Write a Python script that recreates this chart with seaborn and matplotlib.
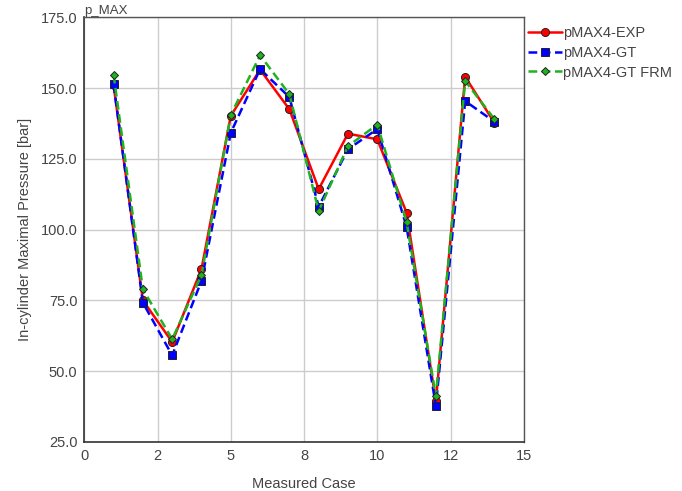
import matplotlib
matplotlib.use("Agg")
import matplotlib.pyplot as plt
import seaborn as sns
import pandas as pd

cases = list(range(1, 15))
p_exp = [151.0, 75.0, 60.3, 86.1, 140.2, 156.5, 142.5, 114.3, 133.9, 131.9, 106.0, 39.4, 154.0, 137.7]
p_gt = [151.3, 74.2, 55.6, 81.9, 134.2, 156.7, 146.8, 108.1, 128.4, 135.5, 101.0, 37.7, 145.4, 138.1]
p_gt_frm = [154.7, 78.9, 61.3, 84.0, 140.5, 161.6, 147.8, 106.6, 129.5, 137.1, 102.7, 41.2, 152.5, 139.0]

xtick_pos = [0, 2.5, 5, 7.5, 10, 12.5, 15]
xtick_labels = ["0", "2", "5", "8", "10", "12", "15"]
ytick_pos = [25, 50, 75, 100, 125, 150, 175]

sns.set_style("white")
plt.rcParams["font.family"] = ["Liberation Sans", "DejaVu Sans"]
text_color = "#444444"

fig = plt.figure(figsize=(6.82, 4.91), dpi=100)
ax = fig.add_axes([0.1236, 0.0998, 0.6444, 0.865])

series = [
    ("pMAX4-EXP", p_exp, "red", "-", "o", 5.8),
    ("pMAX4-GT", p_gt, "blue", (0, (3.5, 1.8)), "s", 5.5),
    ("pMAX4-GT FRM", p_gt_frm, "#1fb31f", (0, (3.5, 1.8)), "D", 4.0),
]
for name, vals, color, ls, marker, ms in series:
    df = pd.DataFrame({"case": cases, "p": vals})
    sns.lineplot(data=df, x="case", y="p", ax=ax, color=color, linestyle=ls,
                 linewidth=1.8, marker=marker, markersize=ms,
                 markeredgecolor="#222222", markeredgewidth=0.7,
                 label=name, sort=False)

ax.set_xlim(0, 15)
ax.set_ylim(25, 175)
ax.set_xticks(xtick_pos)
ax.set_xticklabels(xtick_labels)
ax.set_yticks(ytick_pos)
ax.set_yticklabels([f"{v:.1f}" for v in ytick_pos])
ax.grid(True, color="#cccccc", linewidth=1)
ax.tick_params(colors=text_color, labelsize=10.5, length=0, pad=5)
for side in ["left", "bottom"]:
    ax.spines[side].set_color("#333333")
    ax.spines[side].set_linewidth(1.2)
for side in ["top", "right"]:
    ax.spines[side].set_color("#555555")
    ax.spines[side].set_linewidth(1.0)

ax.set_xlabel("Measured Case", color=text_color, fontsize=10.5, labelpad=10)
ax.set_ylabel("In-cylinder Maximal Pressure [bar]", color=text_color, fontsize=10.5, labelpad=6)
ax.text(0.0, 1.0, "p_MAX", transform=ax.transAxes, ha="left", va="bottom",
        color=text_color, fontsize=9.5)

leg = ax.legend(loc="upper left", bbox_to_anchor=(1.0, 0.99), frameon=False,
                fontsize=10.5, handlelength=2.3, handletextpad=0.1,
                labelspacing=0.4, borderaxespad=0.0, borderpad=0.3)
for t in leg.get_texts():
    t.set_color(text_color)

fig.savefig("out.png", dpi=100)
